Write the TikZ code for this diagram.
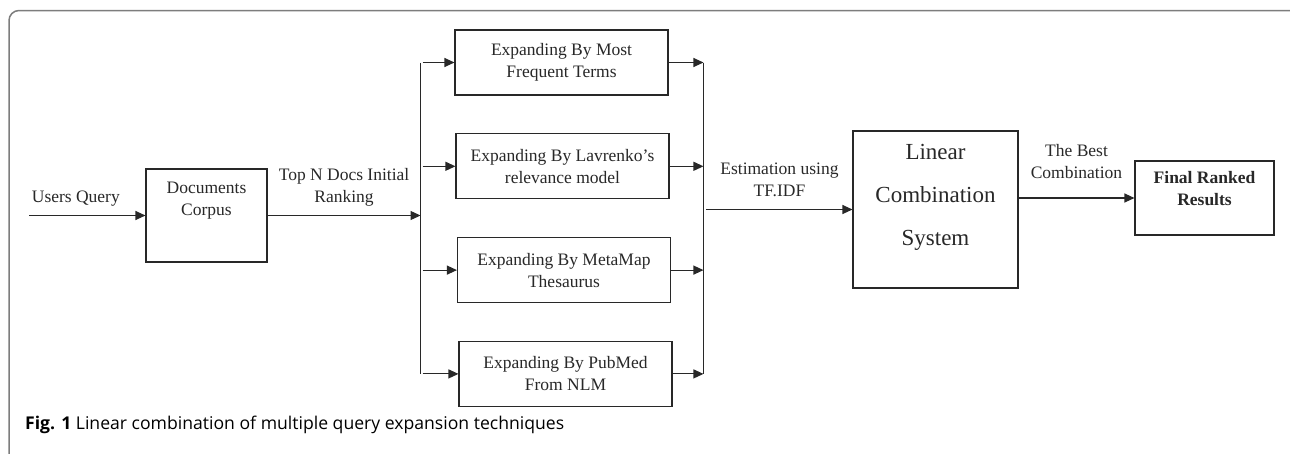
\documentclass[tikz,border=0pt]{standalone}
\usepackage{fontspec}
\setmainfont{Liberation Serif}
\newfontfamily\capfont{Open Sans}
\usetikzlibrary{arrows.meta,positioning}
\definecolor{inkgray}{RGB}{40,40,40}
\definecolor{framegray}{RGB}{125,125,125}
\tikzset{
  >={Triangle[length=10pt,width=9pt]},
  box/.style={
    rectangle, draw=inkgray, line width=1.1pt,
    fill=white, inner sep=0pt, text=inkgray
  },
  stagebox/.style={
    box, minimum width=213pt, minimum height=65pt,
    align=center, font=\fontsize{17.5}{22}\selectfont
  },
  inlabel/.style={anchor=north, inner sep=0pt, align=center, text=inkgray},
  flowtext/.style={
    align=center, inner sep=6pt, text=inkgray,
    font=\fontsize{17.5}{22}\selectfont, execute at end node={\strut}
  },
  arrow/.style={->, line width=1.1pt, draw=inkgray},
  line/.style={line width=1.1pt, draw=inkgray},
  frame/.style={draw=framegray, line width=1.5pt, rounded corners=10pt},
  caption/.style={anchor=base west, inner sep=0pt, font=\capfont\fontsize{17.6}{20}\selectfont},
}

\begin{document}
\begin{tikzpicture}[x=1pt,y=-1pt]
\useasboundingbox (0,0) rectangle (1290,453);
% --- Frame and caption ---
\draw[frame] (1310,10.5) -- (9,10.5) -- (9,480);
\node[caption] (cap) at (25,429) {\textbf{Fig. 1} Linear combination of multiple query expansion techniques};
% --- Nodes ---
\node[box, minimum width=121pt, minimum height=93pt,
  label={[inlabel, yshift=-13pt, font=\fontsize{17.5}{22}\selectfont]north:Documents\\Corpus}] (corpus) at (206.5,215.5) {};
\node[stagebox] (freq) at (561.5,62.5) {Expanding By Most\\Frequent Terms};
\node[stagebox, below=37.7pt of freq, xshift=1pt] (lavr) {Expanding By Lavrenko's\\relevance model};
\node[stagebox, below=37.7pt of lavr, xshift=1.5pt] (meta) {Expanding By MetaMap\\Thesaurus};
\node[stagebox, below=37.7pt of meta, xshift=1.5pt] (pubmed) {Expanding By PubMed\\From NLM};
\node[box, minimum width=165pt, minimum height=157pt,
  label={[inlabel, yshift=-14pt, font=\fontsize{23}{43}\selectfont]north:Linear\\Combination\\System}] (lincomb) at (935.5,209.5) {};
\node[box, minimum width=139pt, minimum height=74pt,
  label={[inlabel, yshift=-11pt, font=\bfseries\fontsize{17.5}{22}\selectfont]north:Final Ranked\\Results}] (final) at (1204.5,198) {};
% --- Coordinates for the split and the merge ---
\coordinate[left=116pt of corpus.west] (qin);
\coordinate[right=153pt of corpus.east] (split);
\coordinate[left=149pt of lincomb.west] (merge);
% --- Arrows ---
\draw[arrow] (qin) -- node[flowtext, above, pos=0.4] {Users Query} (corpus);
\draw[arrow] (corpus) -- node[flowtext, above] {Top N Docs Initial\\Ranking} (split);
\draw[line] (split|-freq.west) -- (split|-pubmed.west);
\foreach \s in {freq,lavr,meta,pubmed}
  \draw[arrow] ([xshift=2pt]split|-\s.west) -- (\s.west);
\foreach \s in {freq,lavr,meta,pubmed}
  \draw[arrow] (\s.east) -- (merge|-\s.east);
\draw[line] (merge|-freq.east) -- (merge|-pubmed.east);
\draw[arrow] ([xshift=3pt]merge) -- node[flowtext, above] {Estimation using\\TF.IDF} (lincomb);
\draw[arrow] (lincomb.east|-final.west) -- node[flowtext, above=6pt] {The Best\\Combination} (final);
\end{tikzpicture}
\end{document}
